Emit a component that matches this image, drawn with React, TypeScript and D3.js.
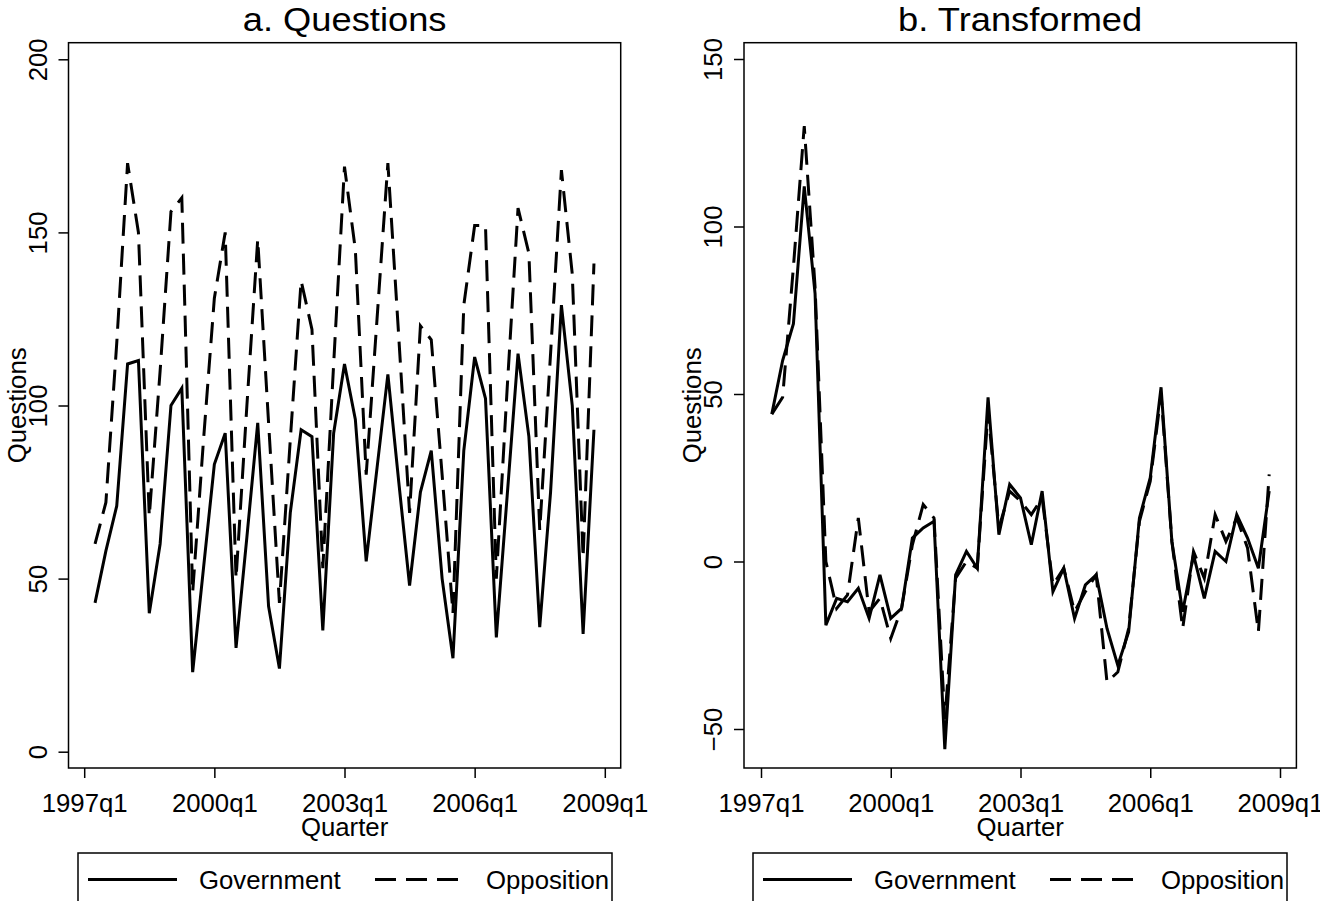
import React, { useEffect, useRef } from "react";
import * as d3 from "d3";

// quarters shown (1997q2 .. 2008q4)
const quarters = [
  "1997q2", "1997q3", "1997q4",
  "1998q1", "1998q2", "1998q3", "1998q4",
  "1999q1", "1999q2", "1999q3", "1999q4",
  "2000q1", "2000q2", "2000q3", "2000q4",
  "2001q1", "2001q2", "2001q3", "2001q4",
  "2002q1", "2002q2", "2002q3", "2002q4",
  "2003q1", "2003q2", "2003q3", "2003q4",
  "2004q1", "2004q2", "2004q3", "2004q4",
  "2005q1", "2005q2", "2005q3", "2005q4",
  "2006q1", "2006q2", "2006q3", "2006q4",
  "2007q1", "2007q2", "2007q3", "2007q4",
  "2008q1", "2008q2", "2008q3", "2008q4",
];

const govQuestions = [
  43, 58, 71, 112, 113, 40, 60, 100, 105, 23, 53, 83, 92, 30, 62, 95,
  42, 24, 69, 93, 91, 35, 92, 112, 96, 55, 82, 109, 78, 48, 75, 87,
  50, 27, 87, 114, 102, 33, 74, 115, 91, 36, 75, 129, 100, 34, 93,
];
const oppQuestions = [
  60, 72, 118, 170, 150, 68, 110, 156, 160, 46, 90, 131, 150, 50, 100, 148,
  95, 43, 90, 136, 122, 53, 112, 169, 145, 80, 125, 170, 120, 69, 123, 119,
  80, 40, 129, 152, 152, 50, 105, 157, 144, 64, 115, 168, 138, 56, 141,
];

const govTransformed = [
  44, 60, 71, 112, 80, -19, -11, -12, -8, -17, -4, -17, -14, 7, 10, 12,
  -56, -4, 3, -2, 49, 8, 23, 19, 5, 21, -9, -2, -17, -7, -4, -20,
  -31, -21, 13, 25, 52, 6, -15, 2, -11, 3, 0, 14, 7, -2, 21,
];
const oppTransformed = [
  44, 49, 88, 130, 82, 0, -14, -10, 13, -15, -11, -23, -14, 5, 17, 13,
  -47, -5, 0, -2, 45, 10, 21, 18, 14, 19, -7, -2, -15, -9, -4, -36,
  -33, -20, 12, 24, 50, 6, -20, 3, -5, 14, 6, 13, 4, -21, 26,
];

const xTickLabels = ["1997q1", "2000q1", "2003q1", "2006q1", "2009q1"];
const questionTicks = [0, 50, 100, 150, 200];
const transformedTicks = [-50, 0, 50, 100, 150];
const seriesNames = ["Government", "Opposition"];

const FONT = "'Liberation Sans', Arial, Helvetica, sans-serif";
const DASH = "21,10";

// quarters counted from 1997q1
const qIndex = (s: string) => (+s.slice(0, 4) - 1997) * 4 + (+s.slice(5) - 1);

const panels = [
  {
    title: "a. Questions",
    gov: govQuestions,
    opp: oppQuestions,
    yTicks: questionTicks,
    yDomain: [0, 200],
    yRange: [751.7, 59.3],
    xRange: [84.2, 604.8],
    box: { l: 68.5, r: 620.7, t: 42.7, b: 768 },
    legendX: 78,
  },
  {
    title: "b. Transformed",
    gov: govTransformed,
    opp: oppTransformed,
    yTicks: transformedTicks,
    yDomain: [-50, 150],
    yRange: [729, 59],
    xRange: [761, 1280],
    box: { l: 744, r: 1296.4, t: 42.7, b: 768 },
    legendX: 753,
  },
];

export default function App() {
  const ref = useRef<SVGSVGElement>(null);

  useEffect(() => {
    const svg = d3.select(ref.current);
    svg.selectAll("*").remove();

    panels.forEach((p) => {
      const g = svg.append("g");
      const x = d3.scaleLinear().domain([0, 48]).range(p.xRange);
      const y = d3.scaleLinear().domain(p.yDomain).range(p.yRange);
      const cx = (p.box.l + p.box.r) / 2;

      g.append("rect")
        .attr("x", p.box.l)
        .attr("y", p.box.t)
        .attr("width", p.box.r - p.box.l)
        .attr("height", p.box.b - p.box.t)
        .attr("fill", "none")
        .attr("stroke", "#000")
        .attr("stroke-width", 1.5);

      // y axis
      const ya = g
        .append("g")
        .attr("transform", `translate(${p.box.l},0)`)
        .call(d3.axisLeft(y).tickValues(p.yTicks).tickSize(10).tickSizeOuter(0));
      ya.select(".domain").remove();
      ya.attr("font-size", 25).attr("font-family", FONT);
      ya.selectAll(".tick line").attr("stroke-width", 1.5);
      ya.selectAll(".tick text")
        .attr("x", 0)
        .attr("y", -22)
        .attr("dy", null)
        .attr("text-anchor", "middle")
        .attr("transform", "rotate(-90)");

      // x axis
      const xa = g
        .append("g")
        .attr("transform", `translate(0,${p.box.b})`)
        .call(
          d3
            .axisBottom(x)
            .tickValues(xTickLabels.map(qIndex))
            .tickFormat((d: any) => xTickLabels[d / 12])
            .tickSize(10)
            .tickSizeOuter(0)
        );
      xa.select(".domain").remove();
      xa.attr("font-size", 25).attr("font-family", FONT);
      xa.selectAll(".tick line").attr("stroke-width", 1.5);
      xa.selectAll(".tick text").attr("y", 44).attr("dy", null);

      // axis titles
      g.append("text")
        .attr("transform", `translate(${p.box.l - 43},${(p.box.t + p.box.b) / 2}) rotate(-90)`)
        .attr("text-anchor", "middle")
        .attr("font-family", FONT)
        .attr("font-size", 25)
        .text("Questions");
      g.append("text")
        .attr("x", cx)
        .attr("y", 836)
        .attr("text-anchor", "middle")
        .attr("font-family", FONT)
        .attr("font-size", 25)
        .text("Quarter");

      // title
      g.append("text")
        .attr("class", "title")
        .attr("x", cx)
        .attr("y", 31)
        .attr("text-anchor", "middle")
        .attr("font-family", FONT)
        .attr("font-size", 33)
        .text(p.title);

      // series
      const line = d3
        .line<number>()
        .x((_, i) => x(qIndex(quarters[i])))
        .y((d) => y(d));

      g.append("path")
        .attr("d", line(p.gov))
        .attr("fill", "none")
        .attr("stroke", "#000")
        .attr("stroke-width", 3);
      g.append("path")
        .attr("d", line(p.opp))
        .attr("fill", "none")
        .attr("stroke", "#000")
        .attr("stroke-width", 3)
        .attr("stroke-dasharray", DASH);

      // legend
      const lg = g.append("g").attr("transform", `translate(${p.legendX},853)`);
      lg.append("rect")
        .attr("width", 534)
        .attr("height", 80)
        .attr("fill", "#fff")
        .attr("stroke", "#000")
        .attr("stroke-width", 1.5);
      lg.append("line")
        .attr("x1", 10).attr("x2", 99).attr("y1", 26.5).attr("y2", 26.5)
        .attr("stroke", "#000").attr("stroke-width", 3);
      lg.append("line")
        .attr("x1", 297).attr("x2", 380).attr("y1", 26.5).attr("y2", 26.5)
        .attr("stroke", "#000").attr("stroke-width", 3)
        .attr("stroke-dasharray", DASH);
      lg.selectAll("text.leg")
        .data(seriesNames)
        .join("text")
        .attr("class", "leg")
        .attr("x", (_, i) => (i === 0 ? 121 : 408))
        .attr("y", 35.5)
        .attr("font-family", FONT)
        .attr("font-size", 25)
        .text((d) => d);
    });

    // Stata's lettering runs a little wider than Arial
    svg.selectAll<SVGTextElement, unknown>("text").each(function () {
      const k = this.classList.contains("title") ? 1.1 : 1.03;
      const w = this.getComputedTextLength();
      d3.select(this).attr("textLength", w * k).attr("lengthAdjust", "spacingAndGlyphs");
    });
  }, []);

  return (
    <svg
      ref={ref}
      width={1320}
      height={901}
      style={{ position: "absolute", left: 0, top: 0, background: "#fff" }}
    />
  );
}
